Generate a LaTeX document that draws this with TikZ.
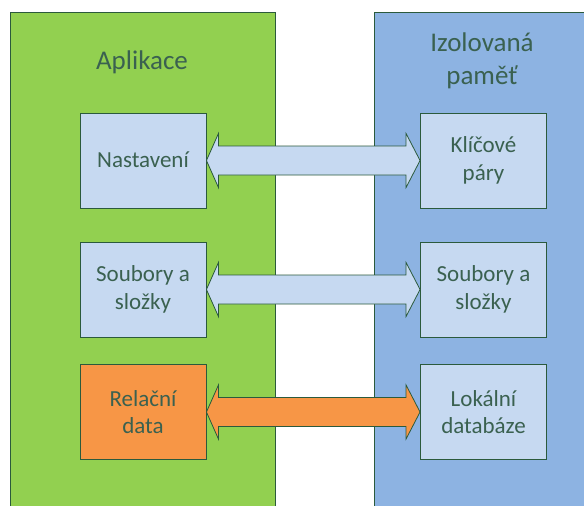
\documentclass[tikz,border=0pt]{standalone}
\usepackage{fontspec}
\setmainfont{Carlito}
\usetikzlibrary{calc}
\definecolor{appgreen}{HTML}{92D050}
\definecolor{storeblue}{HTML}{8DB3E2}
\definecolor{paleblue}{HTML}{C6D9F1}
\definecolor{dataorange}{HTML}{F79646}
\definecolor{edgegreen}{HTML}{2B5A3C}
\definecolor{labeltext}{HTML}{3A6150}
\tikzset{
  panel/.style={draw=edgegreen, line width=0.9pt},
  panetitle/.style={text=labeltext, font=\fontsize{27}{32.5}\selectfont, align=center, inner sep=0pt},
  itembox/.style={draw=edgegreen, line width=0.9pt, fill=paleblue, minimum width=126pt, minimum height=95pt,
    inner sep=0pt, text=labeltext, font=\fontsize{23}{27.5}\selectfont, align=center},
  link/.style={draw=edgegreen, line width=0.8pt, line join=miter, fill=paleblue},
}
% double-headed block arrow between two boxes
\newcommand{\blockarrow}[3][]{%
  \path[link,#1] (#2.east) -- ($(#2.east)+(12,-27)$) -- ($(#2.east)+(12,-14.5)$)
    -- ($(#3.west)+(-14,-14.5)$) -- ($(#3.west)+(-14,-27)$) -- (#3.west)
    -- ($(#3.west)+(-14,27)$) -- ($(#3.west)+(-14,14.5)$)
    -- ($(#2.east)+(12,14.5)$) -- ($(#2.east)+(12,27)$) -- cycle;}
\begin{document}
\begin{tikzpicture}[x=1pt,y=-1pt]
\useasboundingbox (0,0) rectangle (584,506);
\clip (0,0) rectangle (584,506);
\fill[white] (0,0) rectangle (584,506);
% the two areas
\draw[panel, fill=appgreen] (10,12.7) rectangle (275,530);
\draw[panel, fill=storeblue] (374,12.7) rectangle (610,530);
\node[panetitle, anchor=base] (apptitle) at (142,69) {Aplikace};
\node[panetitle, anchor=base] (storetitle) at (482,84) {Izolovaná\\paměť};
% application side
\node[itembox, text depth=2pt] (nast) at (143,160.5) {Nastavení};
\node[itembox] (soub) at (143,289.5) {Soubory a\\složky};
\node[itembox, fill=dataorange] (rel) at (143,412) {Relační\\data};
% isolated storage side
\node[itembox] (klic) at (483.5,160.5) {Klíčové\\páry};
\node[itembox] (soubiso) at (483.5,289.5) {Soubory a\\složky};
\node[itembox] (lok) at (483.5,412) {Lokální\\databáze};
% connections
\blockarrow{nast}{klic}
\blockarrow{soub}{soubiso}
\blockarrow[fill=dataorange]{rel}{lok}
\end{tikzpicture}
\end{document}
